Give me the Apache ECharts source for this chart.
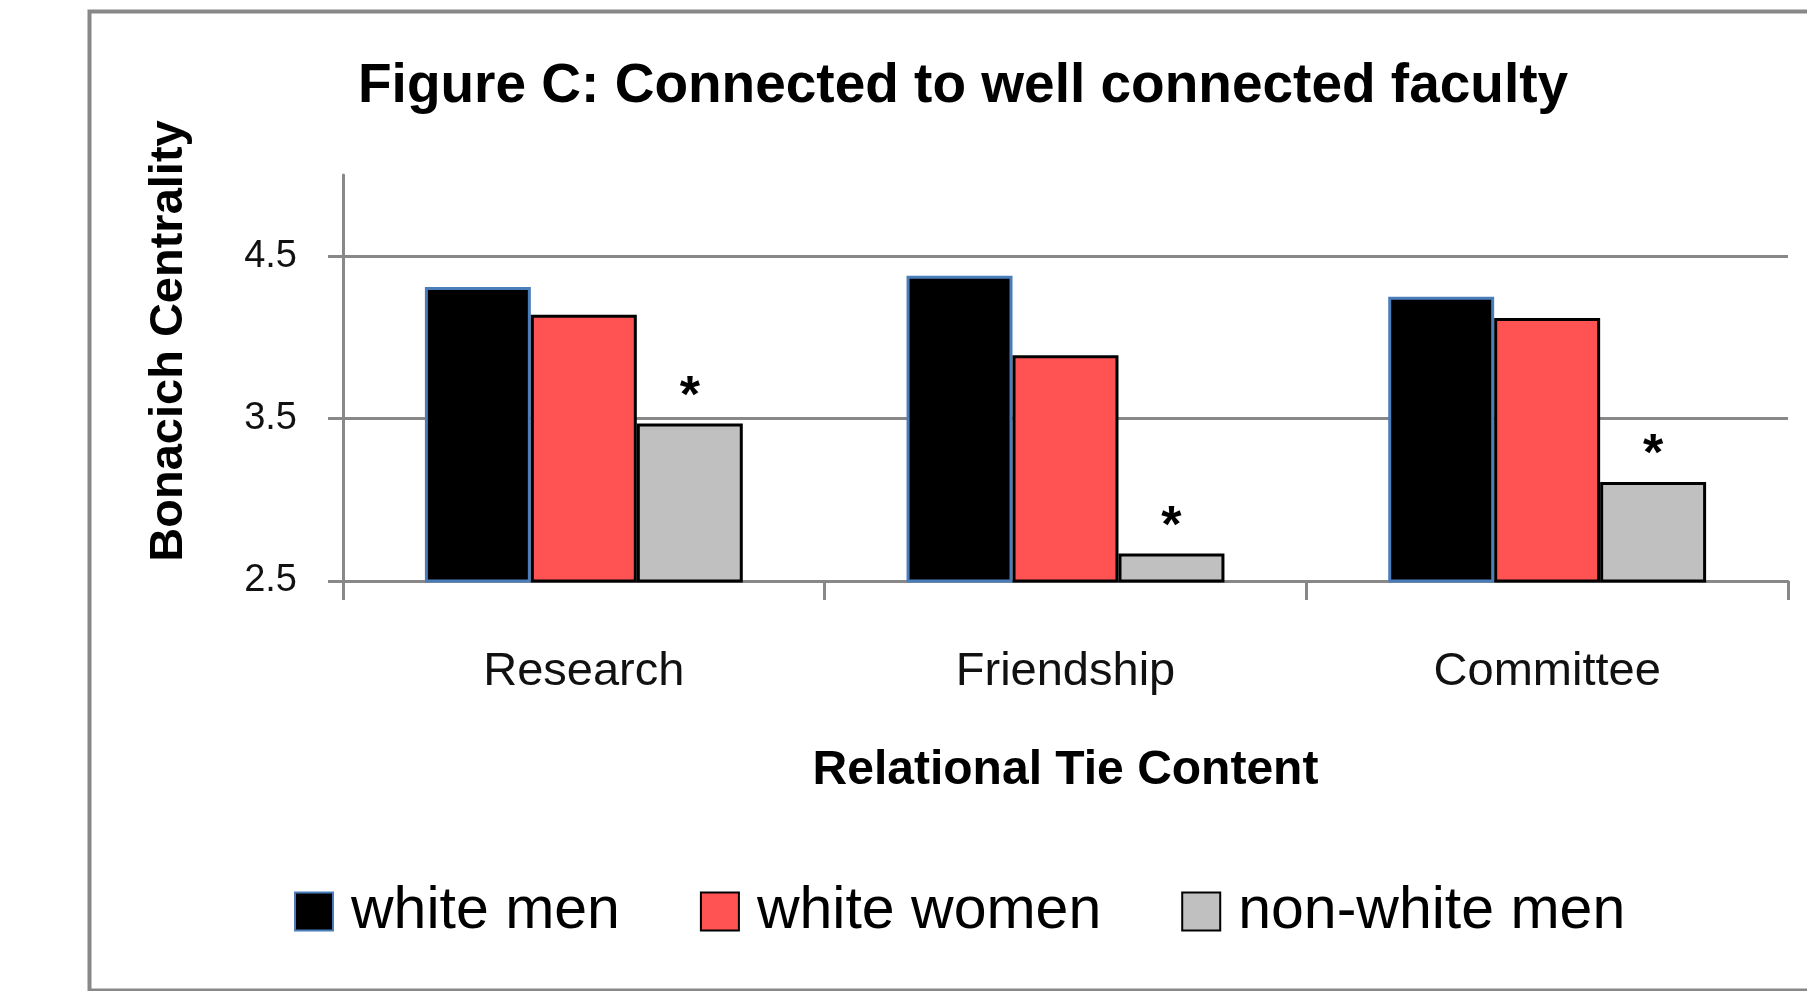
<!DOCTYPE html>
<html>
<head>
<meta charset="utf-8">
<script src="https://cdn.jsdelivr.net/npm/echarts@6/dist/echarts.min.js"></script>
<style>html,body{margin:0;padding:0;background:#fff;}#c{width:1807px;height:991px;}</style>
</head>
<body>
<div id="c"></div>
<script>
const categories = ['Research', 'Friendship', 'Committee'];
const seriesNames = ['white men', 'white women', 'non-white men'];
const whiteMen = [4.31, 4.38, 4.25];
const whiteWomen = [4.14, 3.89, 4.12];
const nonWhiteMen = [3.47, 2.67, 3.11];
const significant = [true, true, true];
const yTicks = [2.5, 3.5, 4.5];

const FONT = '"Liberation Sans", Arial, sans-serif';
const chart = echarts.init(document.getElementById('c'));
chart.setOption({
  animation: false,
  backgroundColor: '#fff',
  title: {
    text: 'Figure C: Connected to well connected faculty',
    left: 353, top: 54,
    textStyle: { fontFamily: FONT, fontSize: 55, fontWeight: 'bold', color: '#000' }
  },
  graphic: [{
    type: 'rect', left: 87, top: 9, silent: true,
    shape: { width: 1760, height: 979 },
    style: { fill: 'none', stroke: '#888', lineWidth: 4 }
  }],
  legend: {
    data: seriesNames,
    left: 289, top: 877,
    itemWidth: 38, itemHeight: 38, itemGap: 80,
    icon: 'rect',
    textStyle: { fontFamily: FONT, fontSize: 59, color: '#000', padding: [0, 0, 0, 13] }
  },
  grid: { left: 343, right: 19, top: 175, bottom: 410, containLabel: false },
  xAxis: {
    type: 'category', data: categories,
    name: 'Relational Tie Content', nameLocation: 'middle', nameGap: 166,
    nameTextStyle: { fontFamily: FONT, fontSize: 48, fontWeight: 'bold', color: '#000' },
    axisLine: { lineStyle: { color: '#888', width: 3 } },
    axisTick: { show: true, length: 19, alignWithLabel: false, lineStyle: { color: '#888', width: 3 } },
    axisLabel: { fontFamily: FONT, fontSize: 47, color: '#111', margin: 68 }
  },
  yAxis: {
    type: 'value', min: 2.5, max: 5, interval: 1,
    name: 'Bonacich Centrality', nameLocation: 'middle', nameGap: 150,
    nameTextStyle: { fontFamily: FONT, fontSize: 47, fontWeight: 'bold', color: '#000', padding: [0, 0, 0, 74] },
    axisLine: { show: true, lineStyle: { color: '#888', width: 3 } },
    axisTick: { show: true, length: 15, customValues: yTicks, lineStyle: { color: '#888', width: 3 } },
    axisLabel: { fontFamily: FONT, fontSize: 38, color: '#111', margin: 46, customValues: yTicks,
      formatter: v => v.toFixed(1) },
    splitLine: { show: true, lineStyle: { color: ['#888', '#888', '#888', 'rgba(0,0,0,0)'], width: 3 } }
  },
  series: [
    { name: seriesNames[0], type: 'bar', data: whiteMen, barGap: '0%', barCategoryGap: '34%',
      itemStyle: { color: '#000', borderColor: '#4A7EBB', borderWidth: 3 } },
    { name: seriesNames[1], type: 'bar', data: whiteWomen, barGap: '0%', barCategoryGap: '34%',
      itemStyle: { color: '#FF5353', borderColor: '#000', borderWidth: 3 } },
    { name: seriesNames[2], type: 'bar', data: nonWhiteMen, barGap: '0%', barCategoryGap: '34%',
      itemStyle: { color: '#C0C0C0', borderColor: '#000', borderWidth: 3 },
      label: { show: true, position: 'top', distance: 0,
        formatter: p => significant[p.dataIndex] ? '*' : '',
        fontFamily: FONT, fontSize: 52, fontWeight: 'bold', color: '#000' } }
  ]
});
</script>
</body>
</html>
